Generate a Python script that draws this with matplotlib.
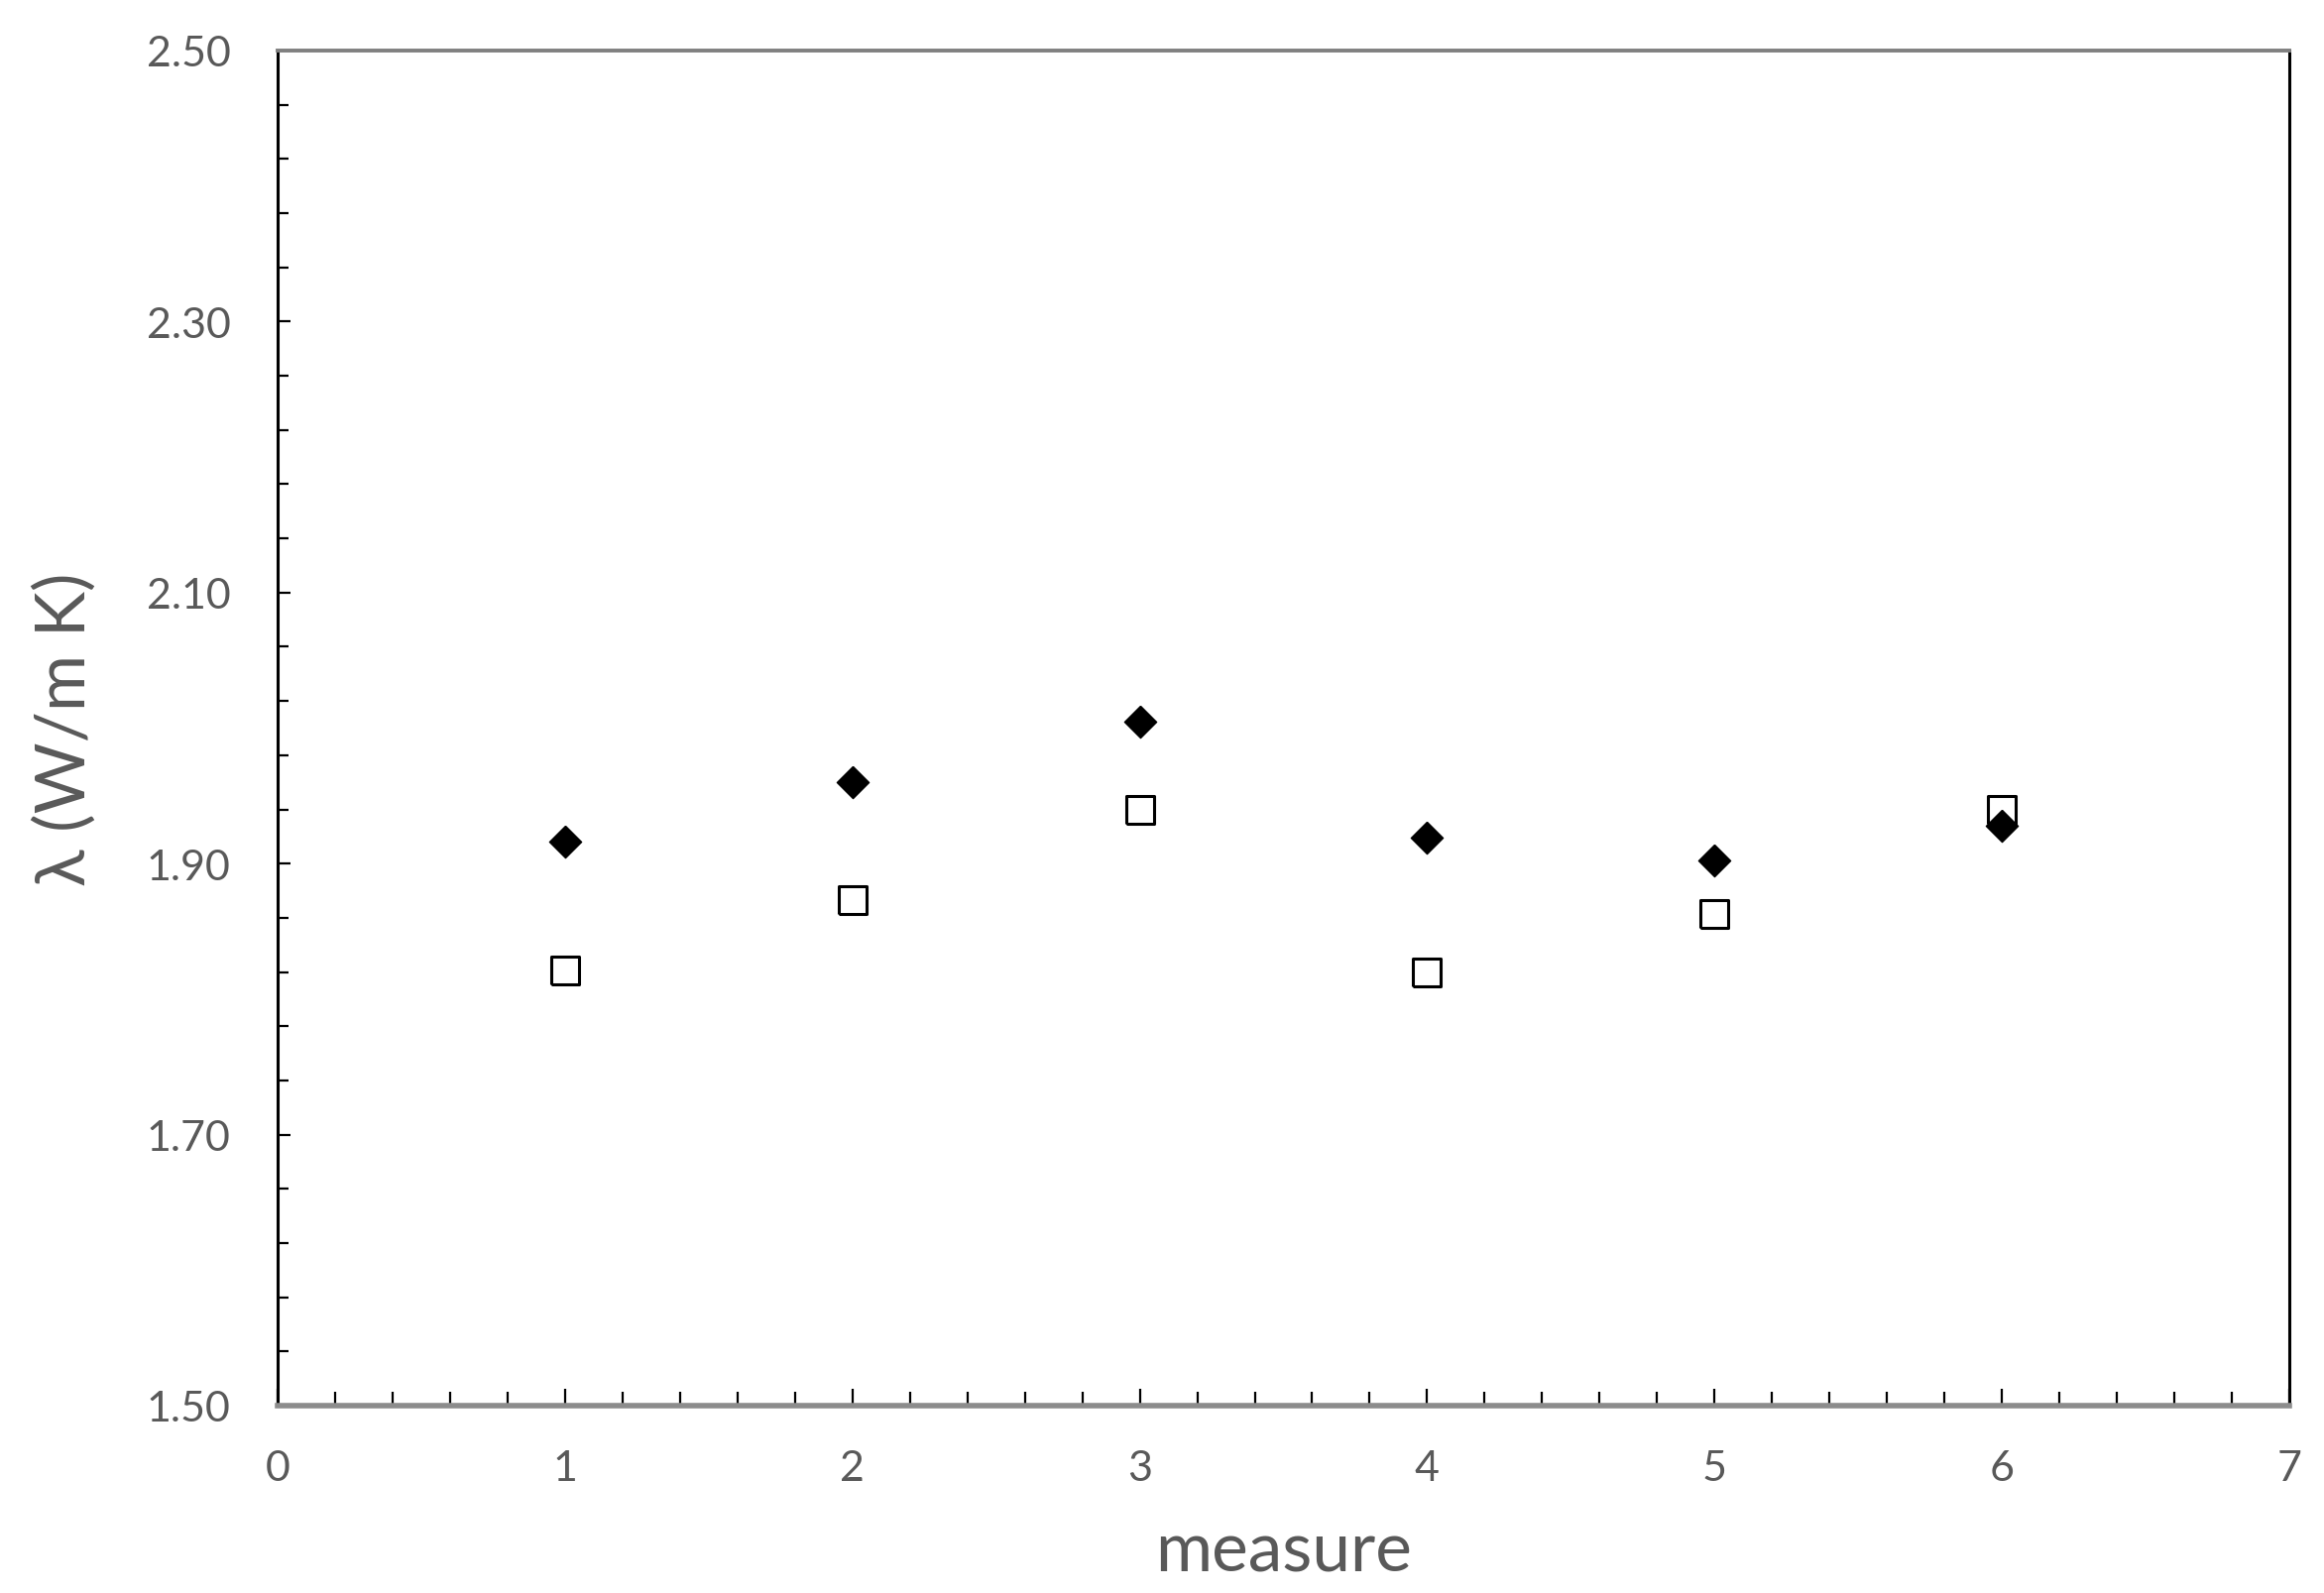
import numpy as np
import matplotlib
matplotlib.use("Agg")
import matplotlib.pyplot as plt
from matplotlib.ticker import MultipleLocator, FormatStrFormatter

measure = [1, 2, 3, 4, 5, 6]
lam_filled = [1.916, 1.960, 2.005, 1.919, 1.902, 1.928]
lam_open = [1.821, 1.873, 1.940, 1.820, 1.863, 1.940]

plt.rcParams['font.family'] = ['Lato', 'DejaVu Sans']
grey = '#595959'

diamond = [(0, 1), (1, 0), (0, -1), (-1, 0), (0, 1)]
square = [(-1, -1), (1, -1), (1, 1), (-1, 1), (-1, -1)]

fig = plt.figure(figsize=(11.72, 8.04), dpi=200)
ax = fig.add_axes([280/2344, 1 - 1419/1608, (2309-280)/2344, (1419-52)/1608])

ax.plot(measure, lam_open, linestyle='none', marker=square, ms=9.8,
        mfc='white', mec='black', mew=1.1, zorder=3)
ax.plot(measure, lam_filled, linestyle='none', marker=diamond, ms=11.6,
        mfc='black', mec='black', mew=0.5, zorder=4)

ax.set_xlim(0, 7)
ax.set_ylim(1.5, 2.5)
ax.xaxis.set_major_locator(MultipleLocator(1))
ax.xaxis.set_minor_locator(MultipleLocator(0.2))
ax.yaxis.set_major_locator(MultipleLocator(0.2, offset=0.1))
ax.yaxis.set_minor_locator(MultipleLocator(0.04, offset=0.02))
ax.yaxis.set_major_formatter(FormatStrFormatter('%.2f'))

ax.tick_params(which='both', direction='in', top=False, right=False,
               colors='black', labelcolor=grey, labelsize=15.5, width=0.8)
ax.tick_params(axis='x', which='major', length=6, pad=16)
ax.tick_params(axis='x', which='minor', length=5.2)
ax.tick_params(axis='y', which='major', length=4.8, pad=17)
ax.tick_params(axis='y', which='minor', length=3.8)

for s in ['left', 'right']:
    ax.spines[s].set_color('black')
    ax.spines[s].set_linewidth(1.1)
ax.spines['top'].set_color('#808080')
ax.spines['top'].set_linewidth(1.4)
ax.spines['bottom'].set_color('#8c8c8c')
ax.spines['bottom'].set_linewidth(2.0)

ax.set_xlabel('measure', fontsize=25, color=grey, labelpad=12)
ax.set_ylabel('λ (W/m K)', fontsize=25, color=grey, labelpad=18)

fig.savefig('out.png', dpi=200)
